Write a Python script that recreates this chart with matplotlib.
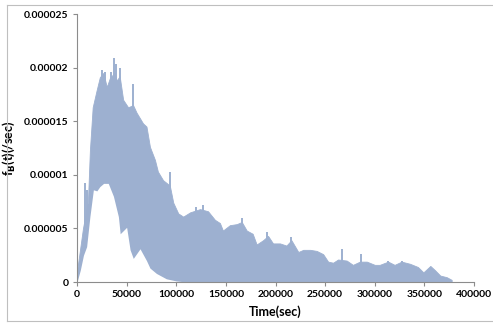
import matplotlib
matplotlib.use("Agg")
import matplotlib.pyplot as plt
from matplotlib.lines import Line2D

plt.rcParams["font.family"] = ["Lato", "DejaVu Sans"]

# upper edge of the band (sec, 1/sec)
upper_t = [0, 3000, 6000, 8000, 11000, 13000, 15800, 19800, 23000, 26500,
           30000, 33000, 37500, 40000, 43000, 46500, 51500, 56500, 60000, 66500,
           70000, 73500, 78500, 81500, 86700, 93500, 97000, 102000, 107000, 114000,
           124000, 132000, 139000, 144000, 147000, 154000, 161000, 166000, 171000, 177000,
           181000, 187500, 192500, 197500, 204500, 211000, 216000, 223000, 228000, 235000,
           241500, 248000, 253000, 258000, 263000, 271700, 278000, 285000, 292000, 300000,
           305000, 313500, 320000, 327000, 335500, 343500, 349000, 356000, 360700, 366000,
           372500, 377500]
upper_f = [1.0, 3.0, 5.0, 6.0, 7.5, 12.3, 16.3, 17.9, 19.1, 19.5,
           18.2, 19.0, 19.5, 18.8, 19.2, 17.0, 16.3, 16.5, 15.8, 14.8,
           14.5, 12.6, 11.4, 10.3, 9.5, 9.0, 7.4, 6.4, 6.1, 6.5,
           6.8, 6.6, 5.8, 5.5, 4.8, 5.3, 5.4, 5.6, 4.8, 4.5,
           3.5, 3.9, 4.3, 3.6, 3.6, 3.4, 3.9, 2.8, 3.0, 3.0,
           2.9, 2.6, 1.9, 1.8, 2.1, 2.0, 1.6, 1.9, 1.9, 1.6,
           1.6, 1.9, 1.6, 1.9, 1.7, 1.4, 0.9, 1.5, 1.1, 0.6,
           0.45, 0.2]
upper_f = [v * 1e-6 for v in upper_f]

# lower edge of the band
lower_t = [0, 3300, 6500, 9700, 13000, 16500, 20000, 23000, 26800, 31500,
           36700, 41700, 43500, 50000, 53500, 56700, 63500, 70000, 73500, 80000,
           90000, 100000, 110000]
lower_f = [0, 1.1, 2.5, 3.3, 6.1, 8.6, 8.5, 8.9, 9.2, 9.2,
           8.0, 6.1, 4.5, 5.1, 3.0, 2.2, 3.1, 2.0, 1.3, 0.8,
           0.3, 0.1, 0]
lower_f = [v * 1e-6 for v in lower_f]

# tallest single spikes above the band
spike_t = [8000, 10500, 25000, 28500, 34500, 37500, 39500, 43000, 56500, 64000,
           93500, 120000, 127000, 166000, 191000, 216000, 266700, 286000, 313500, 327000]
spike_f = [9.2, 8.6, 19.8, 19.6, 19.6, 20.9, 20.3, 20.0, 18.5, 15.0,
           10.3, 7.0, 7.2, 6.0, 4.7, 4.2, 3.1, 2.6, 2.0, 2.0]
spike_f = [v * 1e-6 for v in spike_f]

x_ticks = [0, 50000, 100000, 150000, 200000, 250000, 300000, 350000, 400000]
y_ticks = [0, 0.000005, 0.00001, 0.000015, 0.00002, 0.000025]
y_labels = ["0", "0.000005", "0.00001", "0.000015", "0.00002", "0.000025"]

band = "#9DB0D0"
grey = "#8C8C8C"

fig = plt.figure(figsize=(4.93, 3.23), dpi=100)
ax = fig.add_axes([77 / 493, 41 / 323, 397 / 493, 268 / 323])

ax.fill_between(upper_t, 0, upper_f, color=band, lw=0.6, edgecolor=band, zorder=1)
ax.vlines(spike_t, [0.0] * len(spike_t), spike_f, color=band, lw=1.4, zorder=1.5)
# the empty hump under the band
ax.fill_between(lower_t, 0, lower_f, color="white", lw=0, zorder=2)

ax.set_xlim(0, 400000)
ax.set_ylim(0, 0.000025)
ax.set_xticks(x_ticks)
ax.set_xticklabels([str(t) for t in x_ticks])
ax.set_yticks(y_ticks)
ax.set_yticklabels(y_labels)

for side in ["top", "right"]:
    ax.spines[side].set_visible(False)
for side in ["left", "bottom"]:
    ax.spines[side].set_color(grey)
    ax.spines[side].set_linewidth(0.8)
ax.tick_params(direction="out", length=3, width=0.8, color=grey,
               labelsize=7.5, pad=3)
for lab in ax.get_xticklabels() + ax.get_yticklabels():
    lab.set_fontweight("bold")

ax.set_xlabel("Time(sec)", fontsize=9, fontweight="bold", labelpad=4)
ax.set_ylabel(r"f$_\mathbf{B}$(t)(/sec)", fontsize=9, fontweight="bold", labelpad=5)

# chart frame like the spreadsheet export
frame = "#BFBFBF"
fig.add_artist(Line2D([7 / 493, 7 / 493], [2 / 323, 318 / 323], color=frame, lw=0.8))
fig.add_artist(Line2D([7 / 493, 1], [318 / 323, 318 / 323], color=frame, lw=0.8))
fig.add_artist(Line2D([7 / 493, 1], [2 / 323, 2 / 323], color=frame, lw=0.8))

fig.savefig("out.png", dpi=100)
